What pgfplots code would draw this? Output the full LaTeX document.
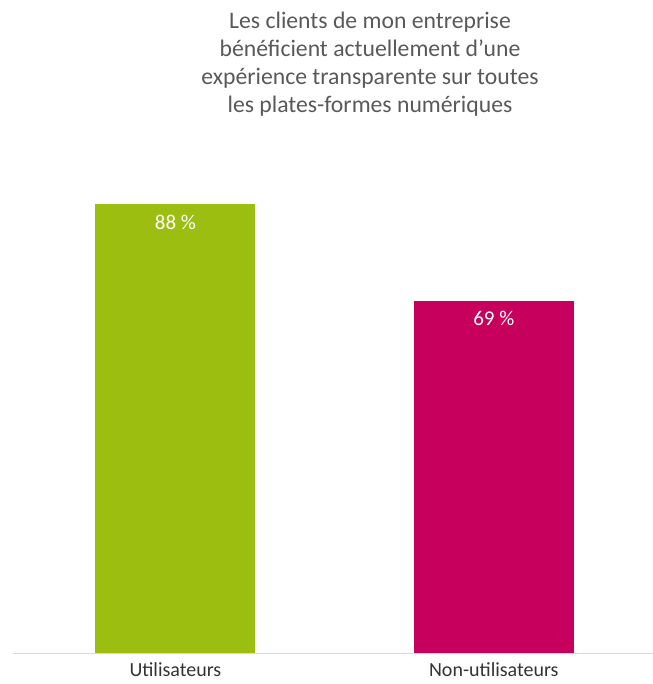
\documentclass[border=0pt]{standalone}
\usepackage{fontspec}
\setmainfont{Carlito}
\usepackage{pgfplots}
\pgfplotsset{compat=1.18}
\definecolor{cgreen}{RGB}{155,190,16}
\definecolor{cmag}{RGB}{198,0,92}
\definecolor{tgray}{RGB}{89,89,89}
\begin{document}
\begin{tikzpicture}[x=1bp,y=1bp]
\path[use as bounding box] (0,0) rectangle (653,684);
\node[align=center, text=tgray, font=\fontsize{23.7bp}{28bp}\selectfont] at (370,620)
  {Les clients de mon entreprise\\bénéficient actuellement d’une\\expérience transparente sur toutes\\les plates-formes numériques};
\begin{axis}[
  at={(13bp,31bp)}, anchor=south west,
  scale only axis, width=640bp, height=510bp,
  xmin=-0.51, xmax=1.5, ymin=0, ymax=100,
  axis x line*=bottom, axis y line=none,
  x axis line style={draw=black!15, line width=1pt, -},
  xtick={0,1}, xticklabels={Utilisateurs,Non-utilisateurs},
  major tick length=0pt,
  xticklabel style={font=\fontsize{20bp}{24bp}\selectfont, text=black!80, yshift=-6bp},
  ybar, bar width=160bp, bar shift=0pt,
  clip=false,
  nodes near coords, point meta=explicit symbolic,
  nodes near coords style={anchor=north, yshift=-7bp, text=white, font=\fontsize{21bp}{25bp}\selectfont},
]
\addplot[fill=cgreen, draw=none] coordinates {(0,88) [88 \%]};
\addplot[fill=cmag, draw=none] coordinates {(1,69) [69 \%]};
\end{axis}
\end{tikzpicture}
\end{document}
